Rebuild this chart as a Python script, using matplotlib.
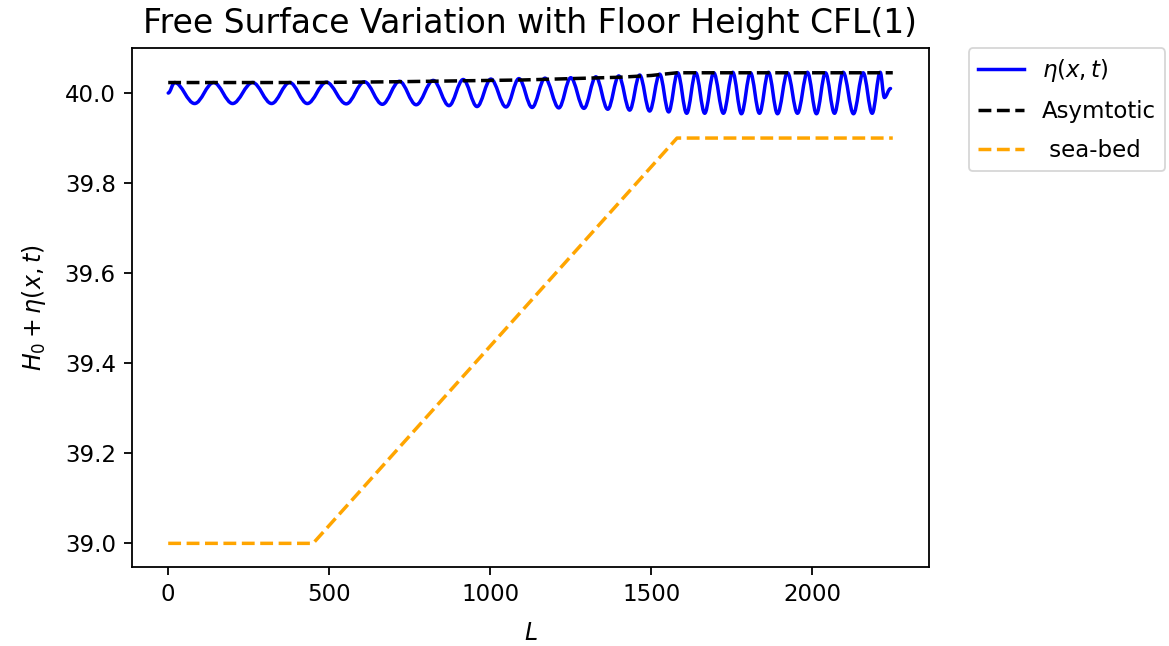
import matplotlib.pyplot as plt
from matplotlib.path import Path
from matplotlib.patches import PathPatch

# crestas y valles de la superficie libre: posicion x y valor H0 + eta
crest_x = [20, 141, 262, 377, 491, 609, 718, 823, 916, 1002, 1089, 1170, 1250,
           1328, 1399, 1464, 1526, 1582, 1638, 1694, 1753, 1808, 1864, 1923,
           1985, 2041, 2096, 2158, 2211]
crest_y = [40.0233, 40.0233, 40.0233, 40.0233, 40.024, 40.025, 40.026, 40.028,
           40.030, 40.031, 40.032, 40.033, 40.034, 40.036, 40.038, 40.040,
           40.042, 40.045, 40.045, 40.045, 40.046, 40.045, 40.046, 40.045,
           40.046, 40.045, 40.046, 40.045, 40.046]
trough_x = [82, 200, 321, 432, 553, 665, 770, 872, 959, 1049, 1130, 1213, 1291,
            1365, 1433, 1495, 1554, 1610, 1666, 1724, 1780, 1836, 1892, 1954,
            2013, 2069, 2128, 2186, 2224]
trough_y = [39.9767, 39.9767, 39.9767, 39.9767, 39.976, 39.975, 39.974, 39.972,
            39.970, 39.969, 39.968, 39.967, 39.966, 39.964, 39.962, 39.960,
            39.958, 39.955, 39.955, 39.955, 39.954, 39.955, 39.954, 39.955,
            39.954, 39.955, 39.954, 39.955, 39.990]
# extremos de la serie
start_pt = (0, 40.0)
end_pt = (2243, 40.010)

# amplitud asintotica
asym_x = [0, 450, 700, 900, 1100, 1250, 1400, 1500, 1580, 2250]
asym_y = [40.0233, 40.0233, 40.025, 40.027, 40.029, 40.032, 40.035, 40.039, 40.045, 40.045]

# fondo marino
bed_x = [0, 450, 1580, 2250]
bed_y = [39.0, 39.0, 39.9, 39.9]

# unir crestas y valles en orden
pts = [start_pt]
for c, t in zip(zip(crest_x, crest_y), zip(trough_x, trough_y)):
    pts += [c, t]
pts.append(end_pt)

fig = plt.figure(figsize=(11.69, 6.46), dpi=100)
ax = fig.add_axes([0.1129, 0.1223, 0.6818, 0.8034])

# curva suave entre extremos (tangente horizontal en cada cresta/valle)
verts = [pts[0]]
codes = [Path.MOVETO]
for (x1, y1), (x2, y2) in zip(pts[:-1], pts[1:]):
    dx = x2 - x1
    verts += [(x1 + 0.36 * dx, y1), (x2 - 0.36 * dx, y2), (x2, y2)]
    codes += [Path.CURVE4] * 3
ax.add_patch(PathPatch(Path(verts, codes), fill=False, edgecolor='b', lw=2.5,
                       capstyle='round', joinstyle='round'))

ax.plot([], [], 'b', lw=2.5, label=r'$\eta(x,t)$')
ax.plot(asym_x, asym_y, 'k--', lw=2.5, label='Asymtotic')
ax.plot(bed_x, bed_y, '--', color='orange', lw=2.5, label=' sea-bed')

ax.set_xlim(-112.5, 2362.5)
ax.set_ylim(38.9475, 40.1)
ax.set_xticks([0, 500, 1000, 1500, 2000])
ax.set_yticks([39.0, 39.2, 39.4, 39.6, 39.8, 40.0])

ax.tick_params(labelsize=16.5, length=5.8, width=1.3, pad=5.8)
for s in ax.spines.values():
    s.set_linewidth(1.3)

ax.set_title('Free Surface Variation with Floor Height CFL(1)', fontsize=23.8, pad=11)
ax.set_xlabel(r'$L$', fontsize=17, labelpad=11)
ax.set_ylabel(r'$H_0 + \eta(x,t)$', fontsize=17, labelpad=12)
leg = ax.legend(bbox_to_anchor=(1.05, 1), loc='upper left', borderaxespad=0.,
                fontsize=16.5, labelspacing=0.7)
leg.get_frame().set_linewidth(1.3)

plt.savefig('out.png', dpi=100)
